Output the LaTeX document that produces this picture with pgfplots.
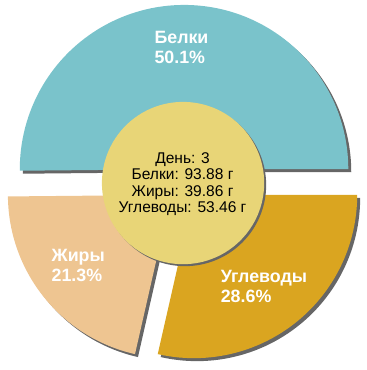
\documentclass[border=0pt]{standalone}
\usepackage{pgfplots}
\pgfplotsset{compat=1.18}
\usepackage{fontspec}
\setmainfont{Liberation Sans}
\definecolor{cB}{HTML}{7AC3CB}
\definecolor{cZ}{HTML}{EEC591}
\definecolor{cU}{HTML}{DAA520}
\definecolor{cC}{HTML}{E8D577}
\definecolor{cS}{HTML}{666666}
% values in grams: Белки, Жиры, Углеводы
\def\vB{93.88}\def\vZ{39.86}\def\vU{53.46}
\begin{document}
\begin{tikzpicture}
\pgfmathsetmacro{\tot}{\vB+\vZ+\vU}
\pgfmathsetmacro{\aB}{360/\tot*\vB}
\pgfmathsetmacro{\aZ}{\aB+360/\tot*\vZ}
\begin{axis}[x=1pt,y=1pt,xmin=0,xmax=370,ymin=0,ymax=370,
  hide axis,scale only axis,clip=false]
\path (axis cs:0,0) rectangle (axis cs:370,370);
% shadows
\fill[cS] (axis cs:189,196) -- ++(0:166pt) arc[start angle=0,end angle=\aB,radius=166pt] -- cycle;
\fill[cS] (axis cs:176,170) -- ++(\aB:165pt) arc[start angle=\aB,end angle=\aZ,radius=165pt] -- cycle;
\fill[cS] (axis cs:199,170) -- ++(\aZ:165pt) arc[start angle=\aZ,end angle=360,radius=165pt] -- cycle;
% slices
\fill[cB] (axis cs:186,199) -- ++(0:166pt) arc[start angle=0,end angle=\aB,radius=166pt] -- cycle;
\fill[cZ] (axis cs:173,173) -- ++(\aB:165pt) arc[start angle=\aB,end angle=\aZ,radius=165pt] -- cycle;
\fill[cU] (axis cs:196,173) -- ++(\aZ:165pt) arc[start angle=\aZ,end angle=360,radius=165pt] -- cycle;
% centre
\fill[cS] (axis cs:187,183) circle[radius=82pt];
\fill[cC] (axis cs:185,185) circle[radius=82pt];
\node[text=white,font=\fontsize{18}{20}\selectfont\bfseries,align=left,anchor=west,inner sep=0pt] at (axis cs:156,322) {Белки\\50.1\%};
\node[text=white,font=\fontsize{18}{20}\selectfont\bfseries,align=left,anchor=west,inner sep=0pt] at (axis cs:52,102) {Жиры\\21.3\%};
\node[text=white,font=\fontsize{18}{20}\selectfont\bfseries,align=left,anchor=west,inner sep=0pt] at (axis cs:223,80.5) {Углеводы\\28.6\%};
\node[text=black,font=\fontsize{15.7}{16.6}\selectfont,align=center,inner sep=0pt] at (axis cs:184.5,184) {День: 3\\Белки: 93.88 г\\Жиры: 39.86 г\\Углеводы: 53.46 г};
\end{axis}
\end{tikzpicture}
\end{document}
